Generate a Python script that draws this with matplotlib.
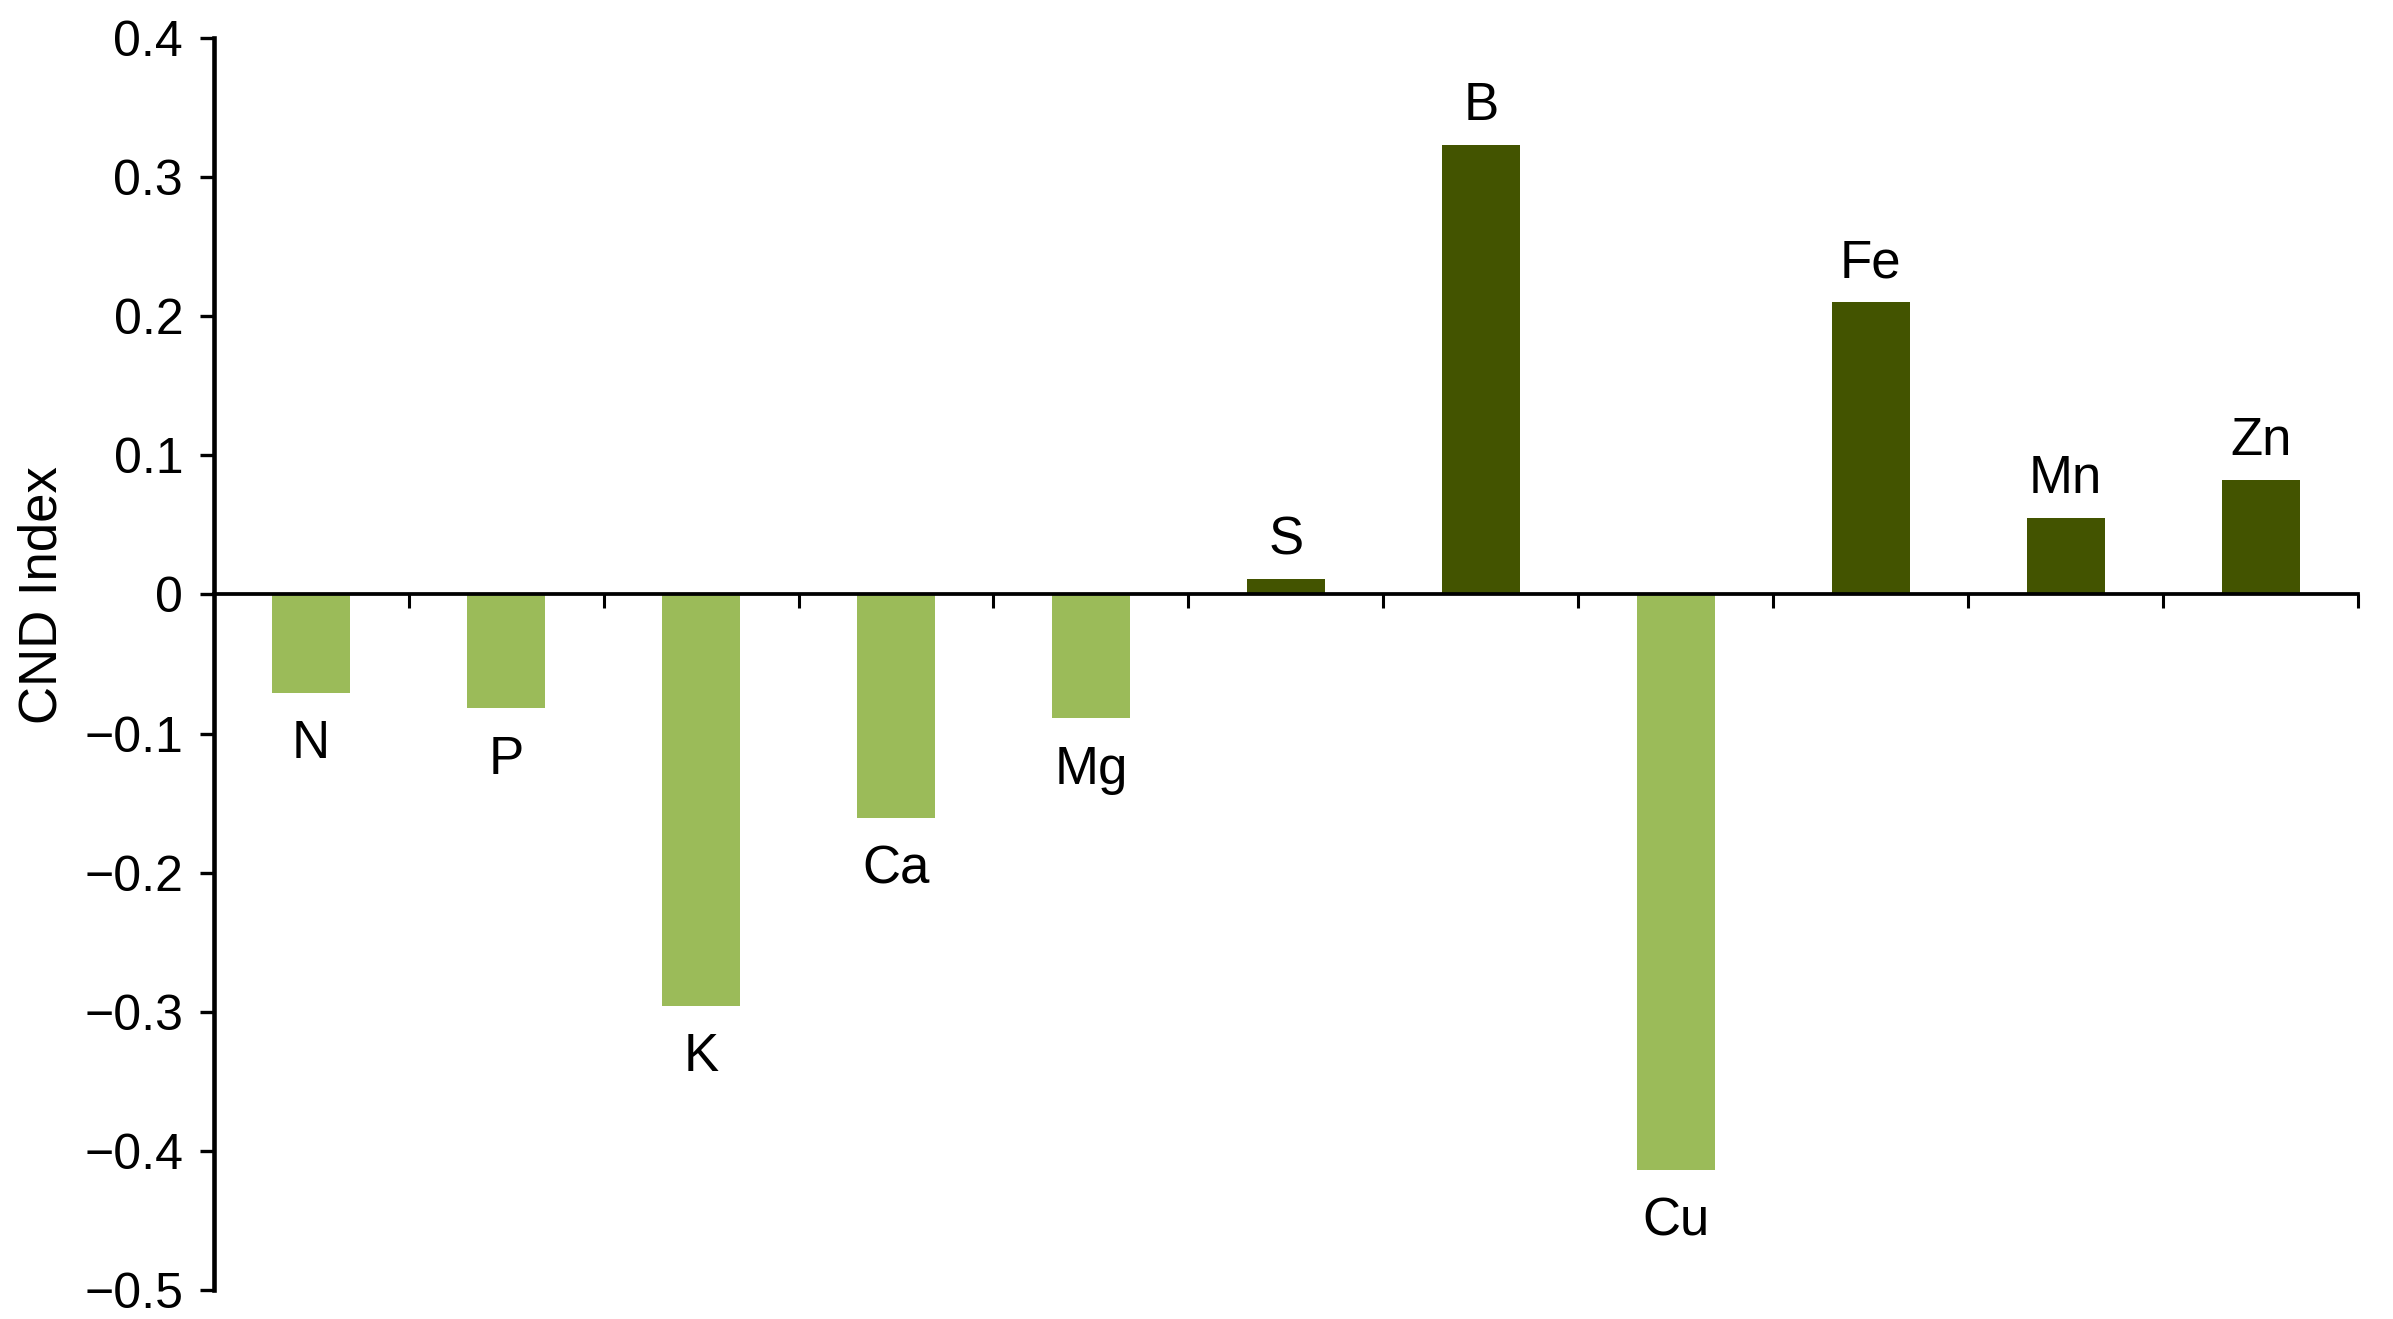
import matplotlib
matplotlib.use("Agg")
import matplotlib.pyplot as plt
from matplotlib.ticker import FixedLocator

elements = ["N", "P", "K", "Ca", "Mg", "S", "B", "Cu", "Fe", "Mn", "Zn"]
cnd_index = [-0.071, -0.082, -0.296, -0.161, -0.089, 0.011, 0.323, -0.414, 0.210, 0.055, 0.082]
y_ticks = [-0.5, -0.4, -0.3, -0.2, -0.1, 0, 0.1, 0.2, 0.3, 0.4]
y_tick_labels = ["\u22120.5", "\u22120.4", "\u22120.3", "\u22120.2", "\u22120.1", "0", "0.1", "0.2", "0.3", "0.4"]

light_green = "#9BBB59"
dark_green = "#435400"

plt.rcParams["font.family"] = ["Liberation Sans", "DejaVu Sans"]

fig = plt.figure(figsize=(23.93, 13.19), dpi=100)
ax = fig.add_axes([0.0893, 0.022, 0.9854 - 0.0893, 0.9712 - 0.022])

x = list(range(len(elements)))
colors = [dark_green if v > 0 else light_green for v in cnd_index]
ax.bar(x, cnd_index, width=0.4, color=colors, zorder=2)

label_fs = 38
for xi, v, name in zip(x, cnd_index, elements):
    if v > 0:
        ax.annotate(name, (xi, v), xytext=(0, 18), textcoords="offset points",
                    ha="center", va="baseline", fontsize=label_fs, color="black")
    else:
        ax.annotate(name, (xi, v), xytext=(0, -47), textcoords="offset points",
                    ha="center", va="baseline", fontsize=label_fs, color="black")

ax.set_xlim(-0.5, len(elements) - 0.5)
ax.set_ylim(-0.5, 0.4)

ax.spines["top"].set_visible(False)
ax.spines["right"].set_visible(False)
ax.spines["bottom"].set_position(("data", 0))
ax.spines["left"].set_linewidth(3.3)
ax.spines["bottom"].set_linewidth(2.7)
ax.spines["bottom"].set_zorder(3)

ax.xaxis.set_major_locator(FixedLocator([i + 0.5 for i in range(len(elements))]))
ax.tick_params(axis="x", direction="out", length=10, width=2.2, labelbottom=False)
ax.set_yticks(y_ticks)
ax.set_yticklabels(y_tick_labels)
ax.tick_params(axis="y", direction="out", length=10, width=2.4, labelsize=36, pad=12)

fig.text(43 / 2393, 1 - 595 / 1319, "CND Index", rotation=90, ha="center", va="center", fontsize=38)

fig.savefig("out.png", dpi=100)
